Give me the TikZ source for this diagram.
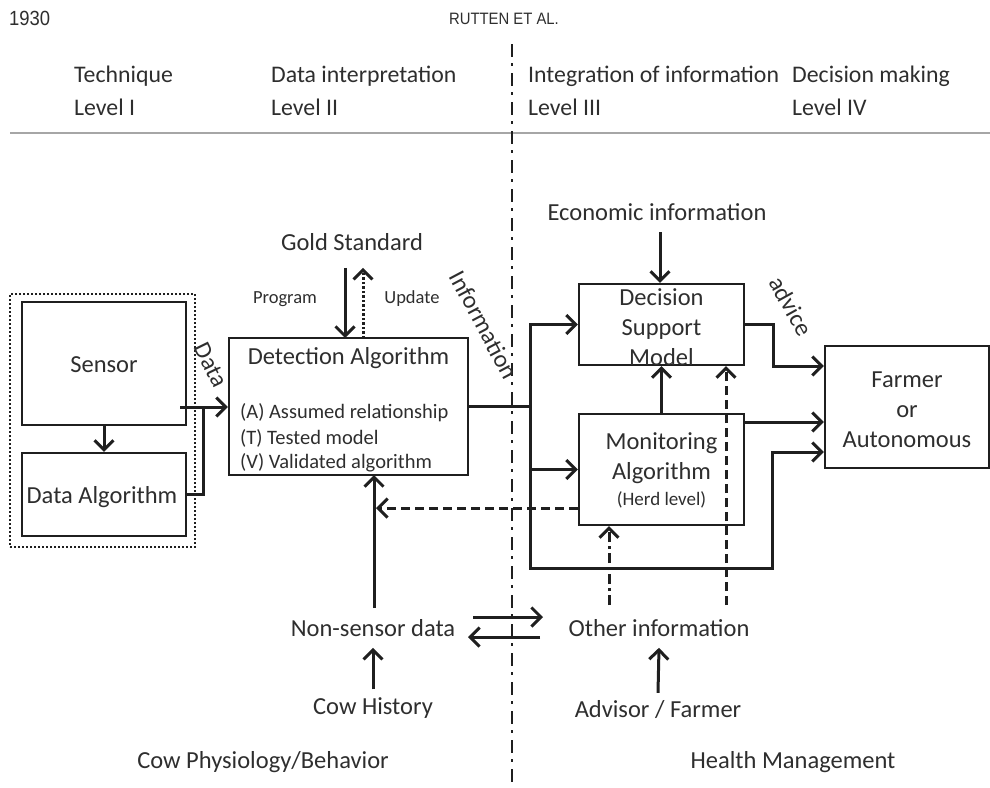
\documentclass[tikz,border=0pt]{standalone}
\usepackage{fontspec}
\setmainfont{Carlito}
\newfontfamily\hdrfont[FakeStretch=0.9]{Liberation Sans}
\usetikzlibrary{arrows.meta,calc}
\definecolor{ink}{gray}{0.12}
\definecolor{txt}{gray}{0.18}
\begin{document}
\begin{tikzpicture}[x=1pt,y=-1pt,
  every node/.style={text=txt, inner sep=0pt, font=\fontsize{24.5}{30}\selectfont},
  lbl/.style={align=center},
  head/.style={anchor=west, font=\fontsize{23.8}{28}\selectfont},
  small/.style={font=\fontsize{18.5}{22}\selectfont},
  abc/.style={anchor=west, font=\fontsize{20.5}{25}\selectfont},
  box/.style={draw=ink, line width=2.2pt},
  ln/.style={draw=ink, line width=3pt},
  conn/.style={ln, -{Straight Barb[length=9.5pt,width=19pt,line width=3pt]}},
  dashconn/.style={conn, dash pattern=on 9pt off 5pt},
  dashdotconn/.style={conn, dash pattern=on 10pt off 4pt on 3pt off 4pt},
  dotconn/.style={conn, dash pattern=on 2.5pt off 2pt},
  divider/.style={draw=ink, line width=2pt, dash pattern=on 13pt off 6pt on 3pt off 7pt}
]
\useasboundingbox (0,0) rectangle (990,787);

% header
\node[anchor=west, font=\hdrfont\fontsize{20.5}{24}\selectfont] (pg) at (9,18) {1930};
\node[font=\hdrfont\fontsize{16.5}{20}\selectfont] (auth) at (504,19) {RUTTEN ET AL.};

% levels
\node[head] (h1a) at (74,76) {Technique};
\node[head] (h1b) at (74,107) {Level I};
\node[head] (h2a) at (271,76) {Data interpretation};
\node[head] (h2b) at (271,107) {Level II};
\node[head] (h3a) at (528,76) {Integration of information};
\node[head] (h3b) at (528,107) {Level III};
\node[head] (h4a) at (792,76) {Decision making};
\node[head] (h4b) at (792,107) {Level IV};

\coordinate (rl) at (10,133);
\coordinate (rr) at (990,133);
\draw[draw=gray!70, line width=2.5pt] (rl) -- (rr);

\coordinate (dt) at (512,44);
\coordinate (db) at (512,787);
\draw[divider] (dt) -- (db);

% boxes
\node[draw=ink, line width=2.2pt, dash pattern=on 2pt off 2pt, minimum width=185pt, minimum height=253pt] (grp) at (102.5,420.5) {};
\node[box, minimum width=164pt, minimum height=123pt] (sensor) at (104,363.5) {};
\node at (104,365) {Sensor};
\node[box, minimum width=164pt, minimum height=83pt] (dalg) at (104,494.5) {};
\node at (102,497) {Data Algorithm};

\node[box, minimum width=239pt, minimum height=137pt] (det) at (348.5,406.5) {};
\node at (348.5,358) {Detection Algorithm};
\node[abc] at (240,413) {(A) Assumed relationship};
\node[abc] at (240,438) {(T) Tested model};
\node[abc] at (240,463) {(V) Validated algorithm};

\node[box, minimum width=165pt, minimum height=81pt] (dsm) at (661.5,324.5) {};
\node[lbl] at (661.5,327) {Decision\\Support\\Model};
\node[box, minimum width=165pt, minimum height=111pt] (mon) at (661.5,469.5) {};
\node at (661.5,443) {Monitoring};
\node at (661.5,473) {Algorithm};
\node[font=\fontsize{19}{22}\selectfont] at (661.5,500) {(Herd level)};

\node[box, minimum width=164pt, minimum height=122pt] (farm) at (907,407) {};
\node[lbl] at (907,410) {Farmer\\or\\Autonomous};

% text nodes
\node (gold) at (352,242) {Gold Standard};
\node[small] (prog) at (285,299) {Program};
\node[small] (upd) at (412,299) {Update};
\node (econ) at (657,212) {Economic information};
\node (nsd) at (373,628) {Non-sensor data};
\node (oth) at (659,628) {Other information};
\node (cow) at (373,708) {Cow History};
\node (adv) at (658,710) {Advisor / Farmer};
\node (phys) at (263,762) {Cow Physiology/Behavior};
\node (hm) at (793,762) {Health Management};

\node[rotate=-64] (ldata) at (211,365) {Data};
\node[rotate=-62] (linfo) at (484,325) {Information};
\node[rotate=-61] (ladv) at (791,306) {advice};

% connectors level I-II
\draw[conn] (sensor.south) -- (dalg.north);
\coordinate (s1) at (180,407);
\draw[conn] (s1) -- (det.west |- s1);
\draw[ln] (dalg.east) -| (203,407);

\draw[conn] ($(gold.south)+(-7,17)$) -- (345,338);
\draw[dotconn] (363,338) -- ($(gold.south)+(11,17)$);

\draw[ln] (det.east) -- (530,406.5);
\draw[conn] (530,406.5) |- (dsm.west);
\draw[conn] (530,406.5) |- (mon.west);
\draw[conn] (530,406.5) |- (772,568) |- (farm.west |- 0,452);

\draw[conn] (mon.north) -- (dsm.south);
\draw[conn] (660,232) -- (dsm.north -| 660,0);
\draw[conn] (dsm.east) -| (773,366) -- (farm.west |- 0,366);
\draw[conn] (mon.east |- 0,422) -- (farm.west |- 0,422);

\draw[dashconn] (mon.west |- 0,508) -- (376,508);
\draw[conn] ($(nsd.north)+(1,-11)$) -- (374,475);

\coordinate (o1) at (609,605);
\coordinate (o2) at (726,605);
\draw[dashdotconn] (o1) -- (mon.south -| o1);
\draw[dashconn] (o2) -- (dsm.south -| o2);

\coordinate (ar1) at (473,617);
\coordinate (ar2) at (543,617);
\coordinate (al1) at (540,637);
\coordinate (al2) at (468,637);
\draw[conn] (ar1) -- (ar2);
\draw[conn] (al1) -- (al2);

\draw[conn] ($(cow.north)+(0,-8)$) -- ($(nsd.south)+(0,11)$);
\draw[conn] ($(adv.north)+(0,-8)$) -- ($(oth.south)+(0,11)$);
\end{tikzpicture}
\end{document}
